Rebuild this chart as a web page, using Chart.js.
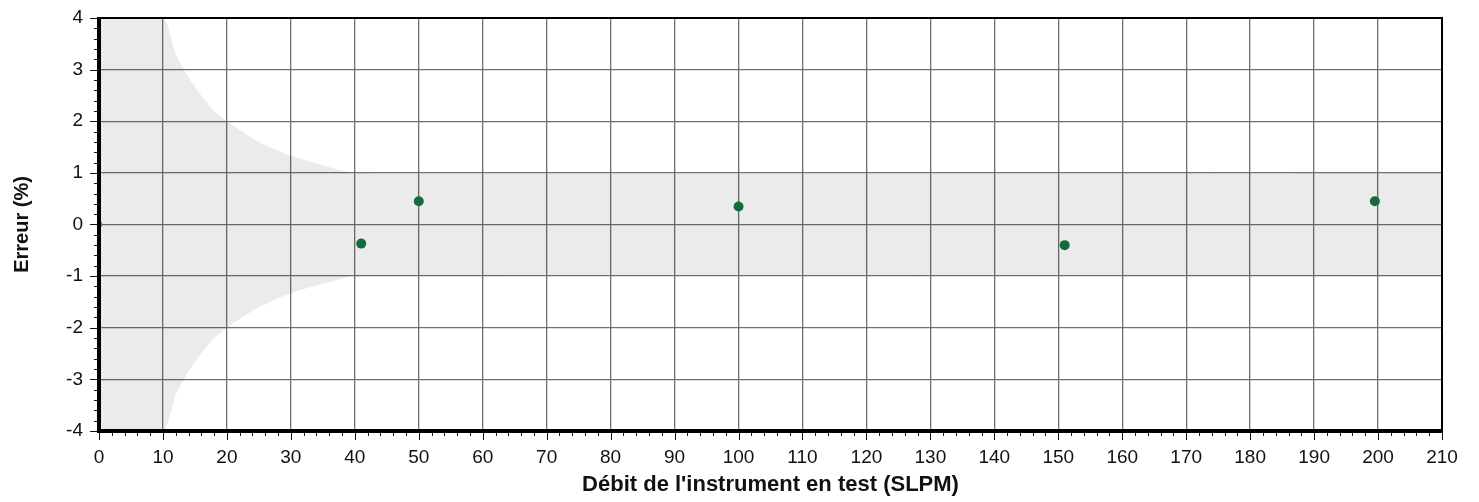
<!DOCTYPE html>
<html>
<head>
<meta charset="utf-8">
<script src="https://cdn.jsdelivr.net/npm/chart.js@4/dist/chart.umd.min.js"></script>
<style>
html,body{margin:0;padding:0;background:#fff;}
#wrap{width:1479px;height:502px;}
</style>
</head>
<body>
<div id="wrap"><canvas id="c" width="1479" height="502"></canvas></div>
<script>
// Measured points (flow SLPM, error %)
const flowValues = [41, 50, 100, 151, 199.5];
const errorValues = [-0.37, 0.45, 0.35, -0.4, 0.45];
// Origin marker
const originX = [0];
const originY = [0];
// Tolerance envelope
const envFlow  = [0, 10, 12, 14, 16, 18, 20, 25, 30, 35, 40, 210];
const envUpper = [4, 4, 3.3, 2.85, 2.5, 2.2, 2, 1.6, 1.33, 1.15, 1, 1];
const envLower = [-4, -4, -3.3, -2.85, -2.5, -2.2, -2, -1.6, -1.33, -1.15, -1, -1];
// Axes
const xMin = 0, xMax = 210, xStep = 10;
const yMin = -4, yMax = 4, yStep = 1;
const xTitle = "Débit de l'instrument en test (SLPM)";
const yTitle = "Erreur (%)";

const toPts = (xs, ys) => xs.map((x, i) => ({x: x, y: ys[i]}));

const frameAndTicks = {
  id: 'frameAndTicks',
  afterDraw(chart) {
    const {ctx, chartArea: a, scales: {x, y}} = chart;
    ctx.save();
    ctx.strokeStyle = '#111';
    ctx.lineWidth = 1;
    for (let v = xMin; v <= xMax + 1e-9; v += xStep / 5) {
      const px = Math.round(x.getPixelForValue(v)) + 0.5;
      const major = Math.abs(v / xStep - Math.round(v / xStep)) < 1e-6;
      ctx.beginPath();
      ctx.moveTo(px, a.bottom);
      ctx.lineTo(px, a.bottom + (major ? 9 : 5));
      ctx.stroke();
    }
    for (let v = yMin; v <= yMax + 1e-9; v += yStep / 5) {
      const py = Math.round(y.getPixelForValue(v)) + 0.5;
      const major = Math.abs(v / yStep - Math.round(v / yStep)) < 1e-6;
      ctx.beginPath();
      ctx.moveTo(a.left, py);
      ctx.lineTo(a.left - (major ? 9 : 5), py);
      ctx.stroke();
    }
    ctx.strokeStyle = '#000';
    ctx.lineWidth = 2;
    ctx.beginPath();
    ctx.moveTo(a.left, a.top);
    ctx.lineTo(a.right, a.top);
    ctx.lineTo(a.right, a.bottom);
    ctx.stroke();
    ctx.lineWidth = 4;
    ctx.beginPath();
    ctx.moveTo(a.left, a.top - 1);
    ctx.lineTo(a.left, a.bottom);
    ctx.lineTo(a.right + 1, a.bottom);
    ctx.stroke();
    ctx.restore();
  }
};

const fontFam = "'Liberation Sans', Arial, sans-serif";

new Chart(document.getElementById('c'), {
  type: 'scatter',
  data: {
    datasets: [
      {
        label: 'upper',
        data: toPts(envFlow, envUpper),
        showLine: true,
        borderWidth: 0,
        borderColor: 'rgba(0,0,0,0)',
        backgroundColor: 'rgba(0,0,0,0.08)',
        pointRadius: 0,
        fill: '+1',
        tension: 0.2,
        order: 3
      },
      {
        label: 'lower',
        data: toPts(envFlow, envLower),
        showLine: true,
        borderWidth: 0,
        borderColor: 'rgba(0,0,0,0)',
        pointRadius: 0,
        fill: false,
        tension: 0.2,
        order: 3
      },
      {
        label: 'origin',
        data: toPts(originX, originY),
        pointRadius: 3,
        pointBackgroundColor: 'rgba(0,0,0,0)',
        pointBorderColor: '#777',
        pointBorderWidth: 1,
        order: 1
      },
      {
        label: 'Erreur',
        data: toPts(flowValues, errorValues),
        pointRadius: 5,
        pointBackgroundColor: '#156b3c',
        pointBorderColor: '#156b3c',
        pointBorderWidth: 0,
        order: 0
      }
    ]
  },
  options: {
    responsive: false,
    animation: false,
    events: [],
    layout: {padding: {left: 0, top: 18, right: 37, bottom: 0}},
    plugins: {legend: {display: false}, tooltip: {enabled: false}},
    scales: {
      x: {
        type: 'linear',
        min: xMin, max: xMax,
        border: {display: false},
        grid: {color: '#707070', lineWidth: 1.3, drawTicks: false},
        ticks: {stepSize: xStep, autoSkip: false, maxRotation: 0, padding: 15,
                color: '#111', font: {family: fontFam, size: 19}},
        title: {display: true, text: xTitle, color: '#111',
                font: {family: fontFam, size: 22, weight: 'bold'},
                padding: {top: 0, bottom: 4}},
        afterFit(s) { s.height = 71; s.paddingLeft = 0; s.paddingRight = 0; }
      },
      y: {
        type: 'linear',
        min: yMin, max: yMax,
        border: {display: false},
        grid: {color: '#707070', lineWidth: 1.3, drawTicks: false},
        ticks: {stepSize: yStep, padding: 16, color: '#111',
                font: {family: fontFam, size: 19}},
        title: {display: true, text: yTitle, color: '#111',
                font: {family: fontFam, size: 20, weight: 'bold'},
                padding: {top: 10, bottom: 0}},
        afterFit(s) { s.width = 99; s.paddingTop = 0; s.paddingBottom = 0; }
      }
    }
  },
  plugins: [frameAndTicks]
});
</script>
</body>
</html>
